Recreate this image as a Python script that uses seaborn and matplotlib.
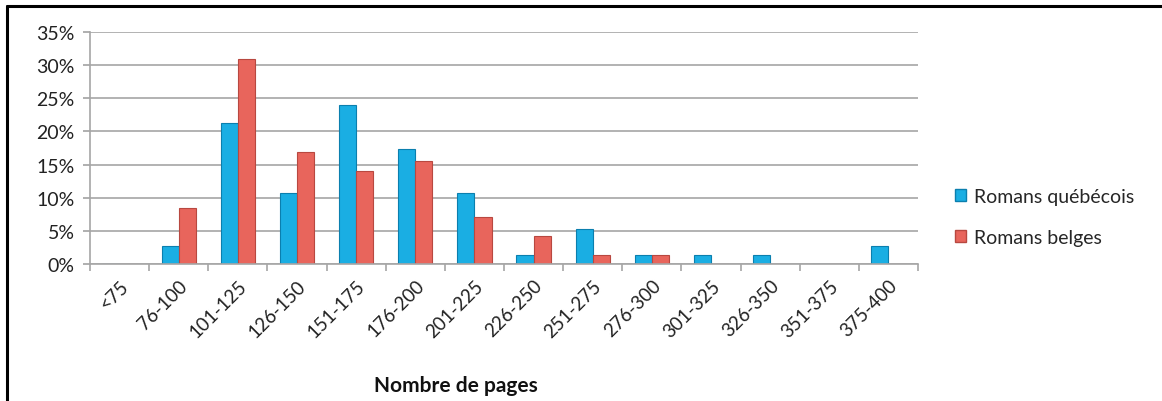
import numpy as np
import pandas as pd
import matplotlib
matplotlib.use("Agg")
import matplotlib.pyplot as plt
import seaborn as sns
from matplotlib.lines import Line2D
from matplotlib.patches import Patch
from matplotlib.ticker import FuncFormatter, FixedLocator

# tranches de pages
categories = ["<75", "76-100", "101-125", "126-150", "151-175", "176-200", "201-225",
              "226-250", "251-275", "276-300", "301-325", "326-350", "351-375", "375-400"]
# pourcentages
quebecois = [0.0, 2.67, 21.33, 10.67, 24.0, 17.33, 10.67, 1.33, 5.33, 1.33, 1.33, 1.33, 0.0, 2.67]
belges = [0.0, 8.45, 30.99, 16.90, 14.08, 15.49, 7.04, 4.23, 1.41, 1.41, 0.0, 0.0, 0.0, 0.0]
series = ["Romans québécois", "Romans belges"]
colors = ["#1aaee3", "#e8655c"]
edges = ["#0b7fae", "#b84840"]

df = pd.DataFrame({
    "tranche": categories * 2,
    "pct": quebecois + belges,
    "serie": [series[0]] * len(categories) + [series[1]] * len(categories),
})

sns.set_theme(style="white")
plt.rcParams["font.family"] = ["Lato", "DejaVu Sans"]

fig = plt.figure(figsize=(11.62, 4.02), dpi=100)
ax = fig.add_axes([90 / 1162, 1 - 265 / 402, (918 - 90) / 1162, (265 - 33) / 402])

sns.barplot(data=df, x="tranche", y="pct", hue="serie", order=categories,
            hue_order=series, palette=colors, width=0.58, gap=0, ax=ax,
            legend=False, saturation=1)
for i, bar in enumerate(ax.patches):
    bar.set_edgecolor(edges[0] if i < len(categories) else edges[1])
    bar.set_linewidth(0.8)

ax.set_ylim(0, 35)
ax.set_xlim(-0.5, len(categories) - 0.5)
ax.set_yticks(np.arange(0, 36, 5))
ax.yaxis.set_major_formatter(FuncFormatter(lambda v, p: f"{v:.0f}%"))
ax.yaxis.grid(True, color="#a6a6a6", linewidth=1.2)
ax.set_axisbelow(True)
for s in ["top", "right"]:
    ax.spines[s].set_visible(False)
for s in ["left", "bottom"]:
    ax.spines[s].set_color("#a6a6a6")
    ax.spines[s].set_linewidth(1.2)

ax.tick_params(axis="y", left=True, length=5, color="#a6a6a6", labelsize=14,
               labelcolor="#222222", pad=6)
ax.tick_params(axis="x", which="major", length=0, labelsize=13.5, labelcolor="#222222", pad=9)
ax.xaxis.set_minor_locator(FixedLocator(np.arange(-0.5, len(categories), 1)))
ax.tick_params(axis="x", which="minor", bottom=True, length=5, color="#a6a6a6", width=1.2)
for lab in ax.get_xticklabels():
    lab.set_rotation(45)
    lab.set_ha("right")
    lab.set_rotation_mode("anchor")

ax.set_xlabel("")
ax.set_ylabel("")
fig.text(456 / 1162, 1 - 386 / 402, "Nombre de pages", ha="center", va="center",
         fontsize=15, fontweight="bold", color="#111111")

handles = [Patch(facecolor=colors[i], edgecolor=edges[i], label=series[i]) for i in range(2)]
fig.legend(handles=handles, loc="center left", bbox_to_anchor=(937 / 1162, 1 - 218 / 402),
           frameon=False, fontsize=14, handlelength=0.6, handleheight=0.6,
           handletextpad=0.4, labelspacing=1.25)

# cadre
fig.add_artist(Line2D([7 / 1162, 7 / 1162], [0, 1 - 7 / 402], color="black", linewidth=2.2))
fig.add_artist(Line2D([7 / 1162, 1], [1 - 7 / 402, 1 - 7 / 402], color="black", linewidth=2.2))

fig.savefig("out.png", dpi=100)
